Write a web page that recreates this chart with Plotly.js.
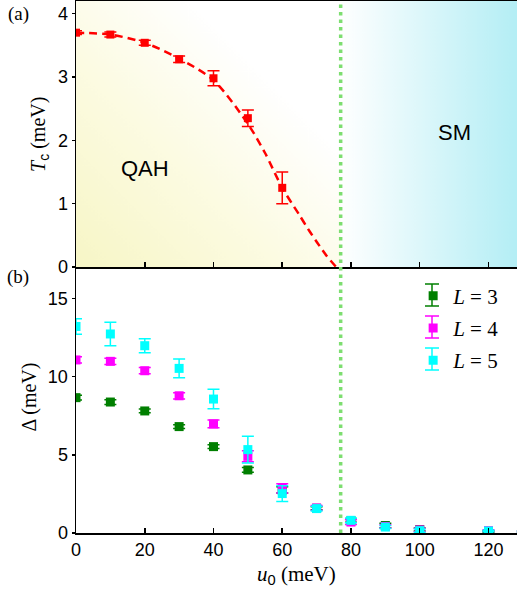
<!DOCTYPE html>
<html>
<head>
<meta charset="utf-8">
<script src="https://cdn.plot.ly/plotly-3.0.1.min.js"></script>
<style>html,body{margin:0;padding:0;background:#fff;}#chart{width:517px;height:593px;}</style>
</head>
<body>
<div id="chart"></div>
<script>
// ---- data ----
const tcU   = [0, 10, 20, 30, 40, 50, 60];
const tcVal = [3.70, 3.67, 3.54, 3.28, 2.98, 2.35, 1.25];
const tcErr = [0.03, 0.04, 0.04, 0.05, 0.12, 0.13, 0.25];

const fitU  = [0, 10, 20, 30, 40, 50, 55, 60, 65, 68, 70, 73, 75.7];
const fitTc = [3.70, 3.67, 3.54, 3.29, 2.95, 2.26, 1.80, 1.25, 0.82, 0.56, 0.40, 0.17, 0];

const u0 = [0, 10, 20, 30, 40, 50, 60, 70, 80, 90, 100, 120, 130];
const gapL3 = [8.65, 8.37, 7.80, 6.80, 5.52, 4.03, 2.75, 1.58, 0.78, 0.48, 0.22, 0.10, 0.08];
const errL3 = [0.15, 0.15, 0.12, 0.12, 0.12, 0.15, 0.20, 0.10, 0.10, 0.15, 0.10, 0.05, 0.05];
const gapL4 = [11.06, 10.97, 10.37, 8.77, 6.97, 4.90, 2.85, 1.60, 0.70, 0.42, 0.20, 0.15, 0.10];
const errL4 = [0.20, 0.20, 0.20, 0.20, 0.25, 0.35, 0.30, 0.15, 0.15, 0.10, 0.10, 0.05, 0.05];
const gapL5 = [13.20, 12.72, 11.97, 10.52, 8.56, 5.33, 2.52, 1.56, 0.81, 0.38, 0.15, 0.13, 0.10];
const errL5 = [0.50, 0.75, 0.45, 0.60, 0.62, 0.85, 0.50, 0.15, 0.15, 0.10, 0.10, 0.05, 0.05];

const seriesNames  = ['<i>L</i> = 3', '<i>L</i> = 4', '<i>L</i> = 5'];
const seriesColors = ['#007f00', '#ff00ff', '#00ffff'];
const boundaryU = 77;

// ---- gradient backgrounds ----
function gradURL(w, h, fn) {
  const c = document.createElement('canvas');
  c.width = w; c.height = h;
  const g = c.getContext('2d');
  fn(g, w, h);
  return c.toDataURL('image/png');
}
const yellowURL = gradURL(300, 300, (g, w, h) => {
  const lg = g.createLinearGradient(0, h, w * 0.95, h * 0.05);
  lg.addColorStop(0, 'rgb(247,246,198)');
  lg.addColorStop(0.4, 'rgb(252,251,225)');
  lg.addColorStop(0.75, 'rgb(255,255,255)');
  lg.addColorStop(1, 'rgb(255,255,255)');
  g.fillStyle = lg; g.fillRect(0, 0, w, h);
});
const cyanURL = gradURL(300, 300, (g, w, h) => {
  const lg = g.createLinearGradient(0, 0, w, 0);
  lg.addColorStop(0, 'rgb(255,255,255)');
  lg.addColorStop(1, 'rgb(180,238,245)');
  g.fillStyle = lg; g.fillRect(0, 0, w, h);
});

const XMAX = 128.3;
const sans = "'Liberation Sans', Arial, sans-serif";
const serif = "'Liberation Serif', 'Times New Roman', serif";

const traces = [
  { x: fitU, y: fitTc, xaxis: 'x', yaxis: 'y', mode: 'lines', line: { shape: 'spline', smoothing: 0.8, color: '#ff0000', width: 2.5, dash: '8px,5px' }, showlegend: false, hoverinfo: 'skip' },
  { x: tcU, y: tcVal, xaxis: 'x', yaxis: 'y', mode: 'markers', marker: { symbol: 'square', size: 8, color: '#ff0000' },
    error_y: { type: 'data', array: tcErr, color: '#ff0000', thickness: 1.5, width: 6 }, showlegend: false }
];
[[gapL3, errL3], [gapL4, errL4], [gapL5, errL5]].forEach(([v, e], i) => {
  traces.push({ x: u0, y: v, xaxis: 'x2', yaxis: 'y2', mode: 'markers', name: seriesNames[i], legendgroup: 'g' + i,
    marker: { symbol: 'square', size: 9, color: seriesColors[i] },
    error_y: { type: 'data', array: e, color: seriesColors[i], thickness: 1.5, width: 6 } });
});

const axBase = { showgrid: false, zeroline: false, showline: true, linecolor: '#000', linewidth: 1.5,
  tickcolor: '#000', tickwidth: 1.5, tickfont: { family: sans, size: 18, color: '#000' } };

// legend glyph error-bar decorations (paper coords)
const PW = 441, PH = 532, PL = 76, PB = 533;
const px2x = px => (px - PL) / PW, py2y = py => (PB - py) / PH;
const legendRowsPx = [295, 327, 359], legendXpx = 432;
const legendShapes = [];
legendRowsPx.forEach((py, i) => {
  const c = seriesColors[i], ln = { color: c, width: 1.5 };
  legendShapes.push({ type: 'line', xref: 'paper', yref: 'paper', x0: px2x(legendXpx), x1: px2x(legendXpx), y0: py2y(py - 11), y1: py2y(py + 11), line: ln });
  legendShapes.push({ type: 'line', xref: 'paper', yref: 'paper', x0: px2x(legendXpx - 7), x1: px2x(legendXpx + 7), y0: py2y(py - 11), y1: py2y(py - 11), line: ln });
  legendShapes.push({ type: 'line', xref: 'paper', yref: 'paper', x0: px2x(legendXpx - 7), x1: px2x(legendXpx + 7), y0: py2y(py + 11), y1: py2y(py + 11), line: ln });
});

const layout = {
  width: 517, height: 593,
  margin: { l: 76, r: 0, t: 1, b: 60 },
  paper_bgcolor: '#fff', plot_bgcolor: '#fff',
  showlegend: true,
  legend: { x: 0.7645, y: 0.484, xanchor: 'left', yanchor: 'top', bgcolor: 'rgba(0,0,0,0)',
    font: { family: serif, size: 21, color: '#000' }, tracegroupgap: 2 },
  xaxis: Object.assign({}, axBase, { domain: [0, 1], anchor: 'y', range: [0, XMAX], dtick: 20, ticks: 'inside', ticklen: 5, showticklabels: false, mirror: true }),
  yaxis: Object.assign({}, axBase, { domain: [0.5, 1], anchor: 'x', range: [0, 4.2], dtick: 1, ticks: 'outside', ticklen: 3 }),
  xaxis2: Object.assign({}, axBase, { domain: [0, 1], anchor: 'y2', range: [0, XMAX], dtick: 20, ticks: 'inside', ticklen: 5 }),
  yaxis2: Object.assign({}, axBase, { domain: [0, 0.5], anchor: 'x2', range: [0, 17], dtick: 5, ticks: 'outside', ticklen: 3 }),
  images: [
    { source: yellowURL, xref: 'x', yref: 'y', x: 0, y: 4.2, sizex: boundaryU, sizey: 4.2, sizing: 'stretch', xanchor: 'left', yanchor: 'top', layer: 'below' },
    { source: cyanURL, xref: 'x', yref: 'y', x: boundaryU, y: 4.2, sizex: XMAX - boundaryU, sizey: 4.2, sizing: 'stretch', xanchor: 'left', yanchor: 'top', layer: 'below' }
  ],
  shapes: [
    { type: 'line', xref: 'x', yref: 'paper', x0: boundaryU, x1: boundaryU, y0: 0, y1: 1, layer: 'above',
      line: { color: 'rgb(125,222,112)', width: 3.5, dash: '3.5px,4px' } }
  ].concat(legendShapes),
  annotations: [
    { text: '(a)', xref: 'paper', yref: 'paper', x: -0.1315, y: 0.976, xanchor: 'center', yanchor: 'middle', showarrow: false, font: { family: serif, size: 19, color: '#000' } },
    { text: '(b)', xref: 'paper', yref: 'paper', x: -0.1315, y: 0.481, xanchor: 'center', yanchor: 'middle', showarrow: false, font: { family: serif, size: 19, color: '#000' } },
    { text: 'QAH', xref: 'x', yref: 'y', x: 20.2, y: 1.56, xanchor: 'center', yanchor: 'middle', showarrow: false, font: { family: sans, size: 22, color: '#000' } },
    { text: 'SM', xref: 'x', yref: 'y', x: 110, y: 2.13, xanchor: 'center', yanchor: 'middle', showarrow: false, font: { family: sans, size: 22, color: '#000' } },
    { text: "<i>T</i><sub><span style='font-family:Liberation Sans'>c</span></sub> (meV)", xref: 'paper', yref: 'paper', x: -0.084, y: 0.75, xanchor: 'center', yanchor: 'middle', textangle: -90, showarrow: false, font: { family: serif, size: 20, color: '#000' } },
    { text: 'Δ (meV)', xref: 'paper', yref: 'paper', x: -0.105, y: 0.256, xanchor: 'center', yanchor: 'middle', textangle: -90, showarrow: false, font: { family: serif, size: 20, color: '#000' } },
    { text: "<i>u</i><sub><span style='font-family:Liberation Sans'>0</span></sub> (meV)", xref: 'paper', yref: 'paper', x: 0.501, y: -0.079, xanchor: 'center', yanchor: 'middle', showarrow: false, font: { family: serif, size: 21, color: '#000' } }
  ]
};

Plotly.newPlot('chart', traces, layout, { displayModeBar: false, staticPlot: true });
</script>
</body>
</html>
